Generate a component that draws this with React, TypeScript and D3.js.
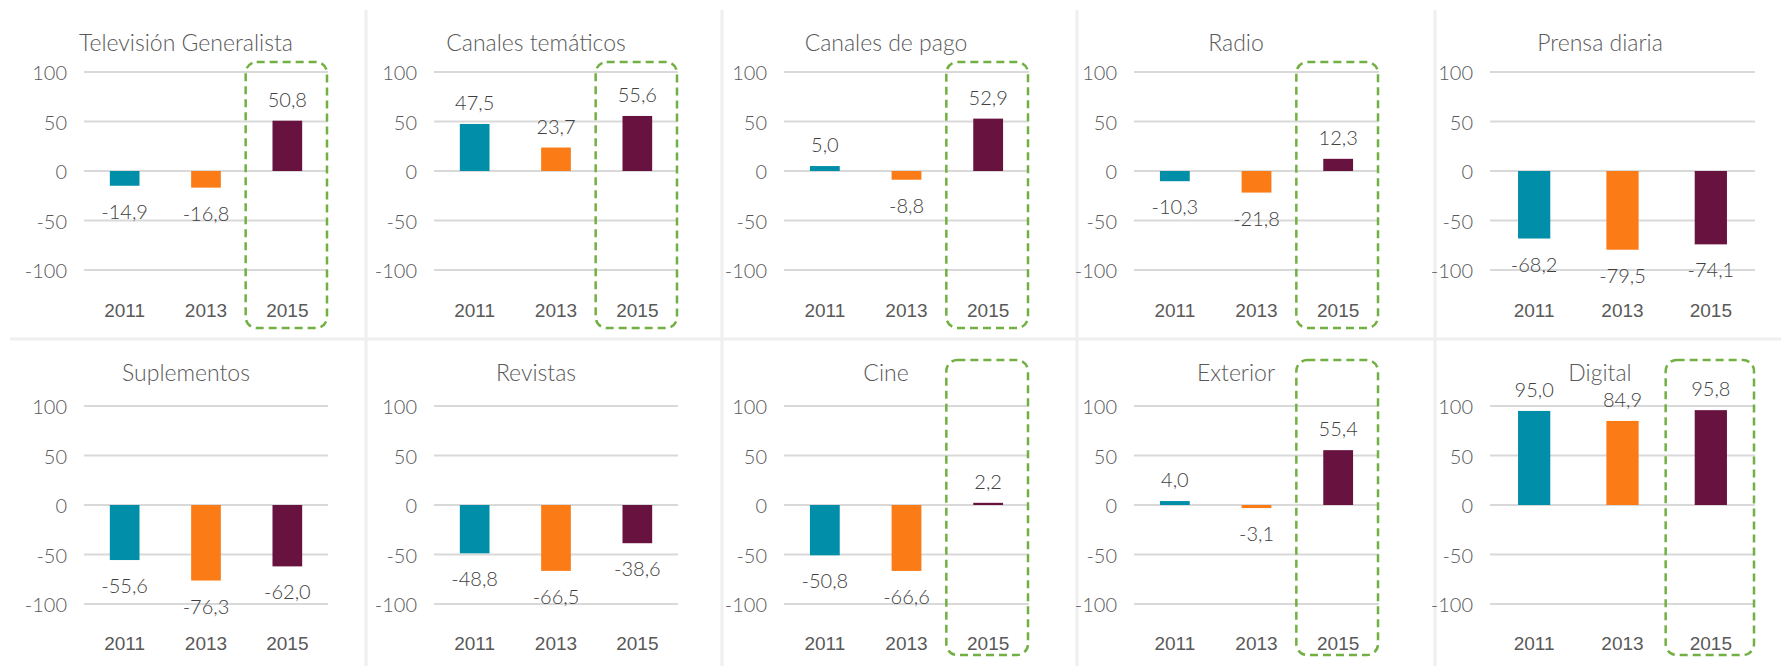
import * as d3 from 'd3'

// media categories, small multiples 2 rows x 5 cols
const panelTitles = [
  'Televisión Generalista', 'Canales temáticos', 'Canales de pago', 'Radio', 'Prensa diaria',
  'Suplementos', 'Revistas', 'Cine', 'Exterior', 'Digital'
];
const years = ['2011', '2013', '2015'];
const values2011 = [-14.9, 47.5, 5.0, -10.3, -68.2, -55.6, -48.8, -50.8, 4.0, 95.0];
const values2013 = [-16.8, 23.7, -8.8, -21.8, -79.5, -76.3, -66.5, -66.6, -3.1, 84.9];
const values2015 = [50.8, 55.6, 52.9, 12.3, -74.1, -62.0, -38.6, 2.2, 55.4, 95.8];
const highlight2015 = [true, true, true, true, false, false, false, true, true, true];
const yTicks = [100, 50, 0, -50, -100];

const colors = ['#008EA9', '#FB7B17', '#681240'];
const lightFont = "Lato, 'Open Sans', sans-serif";

// layout per column / row
const cols = [
  { x0: 84, x1: 328, title: 186 },
  { x0: 434, x1: 678, title: 536 },
  { x0: 784, x1: 1029, title: 886 },
  { x0: 1134, x1: 1379, title: 1236 },
  { x0: 1490, x1: 1755, title: 1600 }
];
const rows = [
  { top: 72, bottom: 270, title: 42, year: 310, boxTop: 62, boxBottom: 328 },
  { top: 406, bottom: 604, title: 372, year: 643, boxTop: 360, boxBottom: 655 }
];
const separatorsX = [366, 722, 1077, 1435];

const fmt = (v: number) => v.toFixed(1).replace('.', ',');

function Panel({ idx }: { idx: number }) {
  const col = cols[idx % 5];
  const row = rows[Math.floor(idx / 5)];
  const vals = [values2011[idx], values2013[idx], values2015[idx]];

  const x = d3.scaleBand().domain(years).range([col.x0, col.x1]).paddingInner(0.635).paddingOuter(0.3175);
  const xb = d3.scaleBand().domain(years).range([col.x0, col.x1]);
  const y = d3.scaleLinear().domain([-100, 100]).range([row.bottom, row.top]);

  return (
    <g>
      <text x={col.title} y={row.title} textAnchor="middle" dominantBaseline="central"
        fontSize={23} fontWeight={300} fill="#595959" fontFamily={lightFont}>{panelTitles[idx]}</text>
      {yTicks.map(t => (
        <g key={t}>
          <line x1={col.x0} x2={col.x1} y1={y(t)} y2={y(t)} stroke="#d9d9d9" strokeWidth={2} />
          <text x={col.x0 - 17} y={y(t)} textAnchor="end" dominantBaseline="central"
            fontSize={20} fontWeight={300} fill="#595959" fontFamily={lightFont}>{t}</text>
        </g>
      ))}
      {years.map((yr, i) => {
        const v = vals[i];
        const top = y(Math.max(0, v));
        const h = Math.abs(y(v) - y(0));
        const labelY = v >= 0 ? y(v) - 22 : y(v) + 25;
        const cx = (x(yr) as number) + x.bandwidth() / 2;
        return (
          <g key={yr}>
            <rect x={x(yr)} y={top} width={x.bandwidth()} height={h} fill={colors[i]} />
            <text x={cx} y={labelY} textAnchor="middle" dominantBaseline="central"
              fontSize={20} fontWeight={300} fill="#404040" fontFamily={lightFont}>{fmt(v)}</text>
            <text x={cx} y={row.year} textAnchor="middle" dominantBaseline="central"
              fontSize={19} fill="#595959" fontFamily="'Liberation Sans', Arial, sans-serif">{yr}</text>
          </g>
        );
      })}
      {highlight2015[idx] && (
        <rect x={(xb('2015') as number) - 1} y={row.boxTop} width={xb.bandwidth()} height={row.boxBottom - row.boxTop}
          rx={11} fill="none" stroke="#72B043" strokeWidth={2.5} strokeDasharray="8 5" />
      )}
    </g>
  );
}

export default function App() {
  return (
    <svg width={1781} height={666} style={{ position: 'absolute', left: 0, top: 0, background: '#fff' }}>
      <rect width={1781} height={666} fill="#fff" />
      {separatorsX.map(sx => (
        <line key={sx} x1={sx} x2={sx} y1={10} y2={666} stroke="#efefef" strokeWidth={3} />
      ))}
      <line x1={10} x2={1781} y1={339} y2={339} stroke="#efefef" strokeWidth={3} />
      {panelTitles.map((_, i) => <Panel key={i} idx={i} />)}
    </svg>
  );
}
